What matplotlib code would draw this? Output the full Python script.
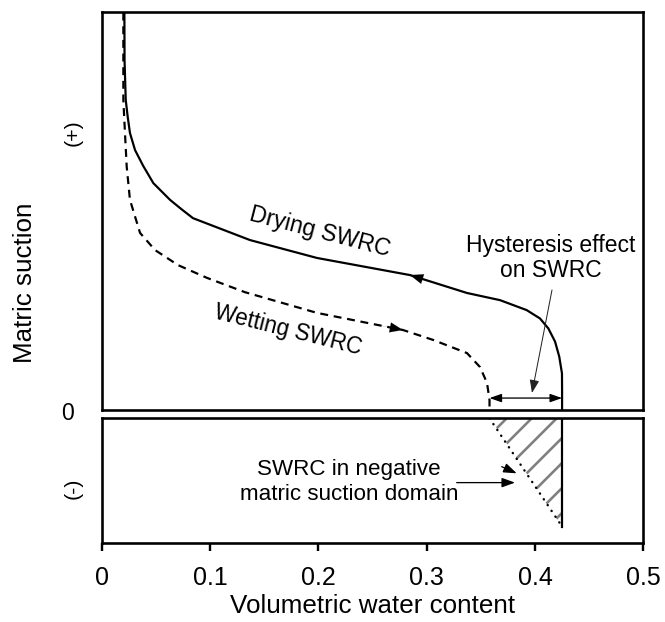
import numpy as np
import matplotlib
matplotlib.use("Agg")
import matplotlib.pyplot as plt
from matplotlib.patches import Polygon, FancyArrowPatch

DPI = 75
W, H = 665, 622


def pt(px):
    """Convert a length in output pixels to points."""
    return px * 72.0 / DPI


plt.rcParams['font.family'] = ['Liberation Sans', 'DejaVu Sans']
plt.rcParams['hatch.linewidth'] = pt(2.6)

# Drying (main) soil-water retention curve: volumetric water content vs. matric suction
dry_theta = [0.0208, 0.0210, 0.0221, 0.0239, 0.0260, 0.0307, 0.0383, 0.0476,
             0.0630, 0.0738, 0.0842, 0.1368, 0.1987, 0.2846, 0.3372, 0.3677,
             0.3923, 0.4046, 0.4123, 0.4185, 0.4224, 0.4249, 0.4250, 0.4250]
dry_suction = [1.05, 0.879, 0.779, 0.737, 0.696, 0.653, 0.613, 0.570,
               0.528, 0.504, 0.482, 0.427, 0.382, 0.339, 0.294, 0.276,
               0.251, 0.230, 0.205, 0.172, 0.134, 0.092, 0.050, 0.0]

# Wetting soil-water retention curve
wet_theta = [0.0199, 0.0199, 0.0214, 0.0230, 0.0260, 0.0353, 0.0491, 0.0704,
             0.0971, 0.1322, 0.1987, 0.2781, 0.3060, 0.3372, 0.3492, 0.3557,
             0.3580, 0.3580]
wet_suction = [1.05, 0.779, 0.696, 0.611, 0.528, 0.445, 0.402, 0.364,
               0.332, 0.296, 0.244, 0.201, 0.176, 0.143, 0.108, 0.068,
               0.025, 0.0]

# Continuation of the curve into the negative matric suction domain
neg_theta = [0.3580, 0.4250]
neg_suction = [0.0, -0.272]

x_ticks = [0.0, 0.1, 0.2, 0.3, 0.4, 0.5]
x_tick_labels = ['0', '0.1', '0.2', '0.3', '0.4', '0.5']

fig = plt.figure(figsize=(W / DPI, H / DPI), dpi=DPI)
left, right = 101.8, 643.3
ax_pos = fig.add_axes([left / W, (H - 410) / H, (right - left) / W, (410 - 12) / H])
ax_neg = fig.add_axes([left / W, (H - 543.3) / H, (right - left) / W, (543.3 - 418.3) / H])

ax_pos.set_xlim(0, 0.5)
ax_pos.set_ylim(0, 1.0)
ax_neg.set_xlim(0, 0.5)
ax_neg.set_ylim(-125 / 398, 0)

for ax in (ax_pos, ax_neg):
    for sp in ax.spines.values():
        sp.set_linewidth(pt(2.6))
        sp.set_color('black')
    ax.set_yticks([])

ax_pos.set_xticks([])
ax_neg.set_xticks(x_ticks)
ax_neg.set_xticklabels(x_tick_labels)
ax_neg.tick_params(axis='x', direction='out', length=pt(8), width=pt(2.4),
                   labelsize=pt(25), pad=pt(14.5))
ax_neg.set_xlabel('Volumetric water content', fontsize=pt(26), labelpad=pt(4))

lw = pt(2.2)
ax_pos.plot(dry_theta, dry_suction, color='black', lw=lw,
            solid_joinstyle='round', solid_capstyle='round')
ax_pos.plot(wet_theta, wet_suction, color='black', lw=lw,
            linestyle=(0, (3.6, 2.6)))


def curve_arrow(ax, xs, ys, x0, toward_left):
    """Arrowhead placed on a curve at x0, pointing along the curve."""
    order = np.argsort(xs, kind='stable')
    xs_s = np.asarray(xs)[order]
    ys_s = np.asarray(ys)[order]
    y0 = np.interp(x0, xs_s, ys_s)
    dx = 0.02 if toward_left else -0.02
    y1 = np.interp(x0 + dx, xs_s, ys_s)
    arr = FancyArrowPatch((x0 + dx, y1), (x0, y0),
                          arrowstyle='-|>,head_length=%.2f,head_width=%.2f' % (pt(13), pt(5)),
                          mutation_scale=1, color='black', lw=0.1,
                          shrinkA=0, shrinkB=0)
    ax.add_patch(arr)


curve_arrow(ax_pos, dry_theta, dry_suction, 0.2846, toward_left=True)
curve_arrow(ax_pos, wet_theta, wet_suction, 0.2781, toward_left=False)

# Hysteresis gap between the curves at near-zero suction
ax_pos.annotate('', xy=(wet_theta[-1], 0.030), xytext=(dry_theta[-1], 0.030),
                arrowprops=dict(arrowstyle='<|-|>,head_length=%.2f,head_width=%.2f' % (pt(10), pt(3.5)),
                                mutation_scale=1, color='black', lw=pt(1.3),
                                shrinkA=0, shrinkB=0))
ax_pos.annotate('', xy=(0.3972, 0.0427), xytext=(0.4157, 0.3015),
                arrowprops=dict(arrowstyle='-|>,head_length=%.2f,head_width=%.2f' % (pt(11), pt(4)),
                                mutation_scale=1, color='#222222', lw=pt(1.0),
                                shrinkA=0, shrinkB=0))

ax_pos.text(0.2015, 0.4485, 'Drying SWRC', rotation=-14.5, rotation_mode='anchor',
            ha='center', va='center', fontsize=pt(23.3))
ax_pos.text(0.1722, 0.201, 'Wetting SWRC', rotation=-14, rotation_mode='anchor',
            ha='center', va='center', fontsize=pt(22.5))
ax_pos.text(0.4148, 0.397, 'Hysteresis effect', ha='center', va='baseline',
            fontsize=pt(22.9))
ax_pos.text(0.4148, 0.334, 'on SWRC', ha='center', va='baseline',
            fontsize=pt(22.9))

# Negative matric suction domain
tri = Polygon([(neg_theta[0], neg_suction[0]), (dry_theta[-1], 0.0),
               (neg_theta[1], neg_suction[1])], closed=True,
              facecolor='none', edgecolor='#808080', lw=0, hatch='/')
ax_neg.add_patch(tri)
ax_neg.plot(neg_theta, neg_suction, color='black', lw=pt(2.4),
            linestyle=(0, (0.1, 2.8)), dash_capstyle='round')
ax_neg.plot([dry_theta[-1], dry_theta[-1]], [0.0, neg_suction[1]], color='black', lw=lw)

ax_neg.text(0.2285, -0.1425, 'SWRC in negative', ha='center', va='baseline',
            fontsize=pt(22.4))
ax_neg.text(0.2285, -0.205, 'matric suction domain', ha='center', va='baseline',
            fontsize=pt(22.4))
ax_neg.annotate('', xy=(0.3831, -0.1382), xytext=(0.3693, -0.1216),
                arrowprops=dict(arrowstyle='-|>,head_length=%.2f,head_width=%.2f' % (pt(11), pt(4)),
                                mutation_scale=1, color='black', lw=pt(1.3),
                                shrinkA=0, shrinkB=0))
ax_neg.annotate('', xy=(0.3815, -0.1616), xytext=(0.3277, -0.1616),
                arrowprops=dict(arrowstyle='-|>,head_length=%.2f,head_width=%.2f' % (pt(11), pt(4)),
                                mutation_scale=1, color='black', lw=pt(1.3),
                                shrinkA=0, shrinkB=0))

# Axis annotations on the left
fig.text(25 / W, 1 - 283 / H, 'Matric suction', rotation=90, ha='center', va='center',
         fontsize=pt(26))
fig.text(73 / W, 1 - 133 / H, '(+)', rotation=90, ha='center', va='center',
         fontsize=pt(21.5))
fig.text(67.5 / W, 1 - 413.5 / H, '0', ha='center', va='center', fontsize=pt(23))
fig.text(73 / W, 1 - 488 / H, '(-)', rotation=90, ha='center', va='center',
         fontsize=pt(21.5))

fig.savefig('out.png', dpi=DPI)
